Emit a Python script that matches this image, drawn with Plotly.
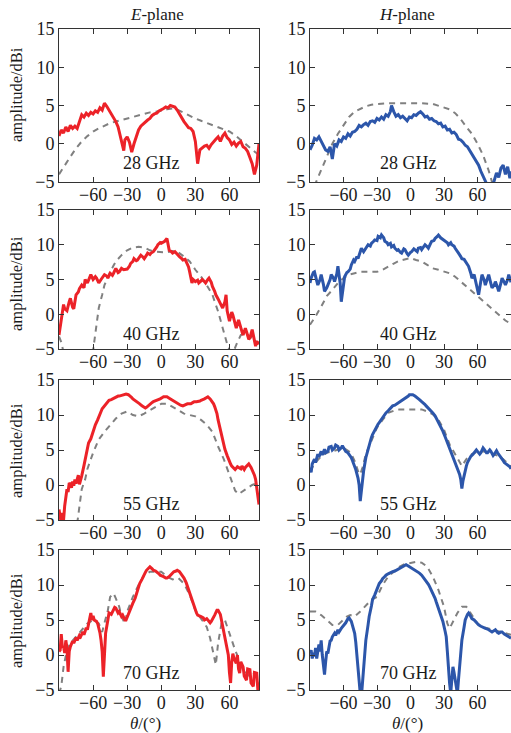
import plotly.graph_objects as go

# ---------------- data (theta in degrees, amplitude in dBi) ----------------
freq_labels = ["28 GHz", "40 GHz", "55 GHz", "70 GHz"]
plane_titles = ["<i>E</i>-plane", "<i>H</i>-plane"]
x_ticks = [-60, -30, 0, 30, 60]
y_ticks = [-5, 0, 5, 10, 15]

e28_meas = [(-90,1.0),(-88,1.8),(-86,1.4),(-84,2.2),(-82,1.6),(-80,2.4),(-78,2.0),(-76,2.3),(-74,2.0),(-72,3.0),(-70,3.8),(-68,3.5),(-66,4.0),(-64,3.7),(-62,4.1),(-60,3.9),(-58,4.3),(-56,4.1),(-54,4.7),(-52,4.4),(-50,5.3),(-48,4.9),(-46,4.4),(-44,3.9),(-42,3.4),(-40,2.9),(-38,2.2),(-36,1.0),(-34,-0.2),(-33,-0.9),(-32,0.5),(-30,0.9),(-28,0.2),(-26,-1.1),(-24,0.0),(-22,1.0),(-20,1.8),(-18,2.3),(-16,2.6),(-14,2.9),(-12,3.1),(-10,3.3),(-8,3.7),(-6,3.9),(-4,4.0),(-2,4.3),(0,4.4),(2,4.6),(4,4.8),(6,4.7),(8,5.0),(10,4.9),(12,4.8),(14,4.4),(16,3.9),(18,3.3),(20,2.9),(22,2.5),(24,2.1),(26,2.0),(28,1.6),(30,0.3),(32,-2.6),(34,-0.8),(36,-0.5),(38,-0.3),(40,-0.2),(42,-0.6),(44,-0.1),(46,0.3),(48,0.6),(50,0.9),(52,0.3),(54,1.0),(56,1.4),(58,0.8),(60,0.5),(62,-0.1),(64,0.2),(66,-0.3),(68,0.1),(70,0.3),(72,-0.4),(74,-0.6),(76,-1.0),(78,-1.8),(80,-2.6),(82,-4.0),(84,-2.8),(86,0.0)]
e28_sim = [(-90,-4.0),(-85,-2.8),(-80,-1.7),(-75,-0.6),(-70,0.3),(-65,1.0),(-60,1.6),(-55,2.0),(-50,2.4),(-45,2.7),(-40,2.9),(-35,3.1),(-30,3.3),(-25,3.6),(-20,3.8),(-15,4.0),(-10,4.1),(-5,4.2),(0,4.3),(5,4.5),(10,4.6),(15,4.4),(20,4.0),(25,3.6),(30,3.3),(35,3.0),(40,2.7),(45,2.4),(50,2.2),(55,1.9),(60,1.6),(65,1.1),(70,0.5),(75,-0.1),(80,-0.8),(86,-1.5)]

h28_meas = [(-90,-0.8),(-88,-0.2),(-86,0.7),(-84,0.5),(-82,0.9),(-80,0.3),(-78,-0.4),(-76,-0.8),(-74,-1.0),(-72,-0.4),(-70,-2.0),(-68,0.0),(-66,-0.3),(-64,0.5),(-62,0.3),(-60,0.9),(-58,0.7),(-56,1.3),(-54,1.0),(-52,1.5),(-50,1.6),(-48,1.9),(-46,2.4),(-44,2.2),(-42,2.5),(-40,2.7),(-38,2.4),(-36,2.9),(-34,3.0),(-32,2.8),(-30,3.3),(-28,3.1),(-26,3.5),(-24,3.2),(-22,3.8),(-20,3.6),(-18,4.2),(-17,5.0),(-15,4.2),(-13,3.6),(-11,3.8),(-9,3.4),(-7,3.6),(-5,3.3),(-3,3.0),(-1,3.5),(1,3.4),(3,3.8),(5,3.7),(7,4.0),(9,4.2),(11,3.9),(13,3.5),(15,3.6),(17,3.2),(19,3.3),(21,3.0),(23,2.9),(25,2.6),(27,2.7),(29,2.2),(31,2.3),(33,1.8),(35,1.9),(37,1.4),(39,1.5),(41,1.2),(43,0.6),(45,0.5),(47,0.2),(49,-0.2),(51,-0.4),(53,-0.9),(55,-1.3),(57,-1.8),(59,-2.4),(61,-2.8),(63,-3.6),(65,-4.3),(67,-4.9),(69,-5.5),(71,-6.0),(73,-5.6),(75,-4.8),(77,-3.8),(79,-4.4),(81,-3.2),(83,-2.8),(85,-4.0),(87,-3.0),(89,-4.5),(90,-3.6)]
h28_sim = [(-86,-5.5),(-83,-4.5),(-80,-3.5),(-75,-1.7),(-70,0.0),(-65,1.3),(-60,2.4),(-55,3.5),(-50,4.2),(-45,4.6),(-40,4.9),(-35,5.1),(-30,5.2),(-20,5.3),(-10,5.3),(0,5.3),(10,5.3),(20,5.2),(25,5.0),(30,4.8),(35,4.5),(40,4.0),(45,3.2),(50,2.2),(55,1.3),(60,0.0),(65,-1.5),(70,-3.5),(74,-5.5)]

e40_meas = [(-90,-3.0),(-88,-1.0),(-86,1.4),(-85,0.8),(-83,0.5),(-81,1.8),(-80,2.3),(-78,1.0),(-77,0.8),(-75,2.8),(-73,3.2),(-72,3.7),(-70,4.2),(-68,3.8),(-67,5.0),(-65,4.5),(-63,5.3),(-62,5.7),(-60,5.0),(-58,5.4),(-57,5.2),(-55,4.5),(-53,5.0),(-52,5.2),(-50,5.7),(-48,5.5),(-47,5.2),(-45,5.9),(-43,5.6),(-42,5.9),(-40,6.6),(-38,6.0),(-37,6.1),(-35,6.6),(-33,6.4),(-30,6.5),(-28,6.9),(-27,7.3),(-25,7.6),(-24,8.0),(-22,7.7),(-21,7.8),(-19,8.2),(-18,8.5),(-16,8.2),(-15,8.0),(-13,8.5),(-12,8.8),(-10,8.6),(-9,8.8),(-7,9.0),(-6,9.2),(-4,9.7),(-3,10.0),(-1,10.3),(0,10.2),(2,10.4),(3,10.5),(5,10.9),(6,10.2),(7,9.2),(9,9.0),(10,8.8),(12,9.0),(13,8.8),(15,8.5),(16,8.3),(18,8.0),(19,7.8),(21,7.9),(22,7.6),(24,6.8),(25,6.1),(27,4.5),(28,5.0),(30,4.7),(32,4.9),(33,4.5),(35,4.8),(36,5.0),(38,4.7),(39,4.5),(41,5.0),(42,5.2),(44,4.6),(45,4.0),(47,3.3),(48,2.8),(50,2.2),(51,1.8),(53,1.2),(54,0.9),(56,1.8),(57,2.8),(58,0.5),(60,-1.0),(62,0.3),(63,-0.1),(65,-1.3),(66,-2.0),(68,-0.8),(69,-1.5),(71,-2.5),(72,-3.0),(74,-2.0),(75,-2.5),(77,-3.6),(78,-3.4),(80,-2.2),(81,-3.0),(83,-4.6),(84,-3.9),(86,-4.3)]
e40_sim = [(-90,-3.2),(-88,-4.0),(-86,-5.5),(-62,-5.5),(-60,-5.2),(-58,-3.0),(-56,-0.5),(-55,0.9),(-52,2.8),(-50,4.2),(-47,5.3),(-45,6.1),(-42,7.0),(-40,7.6),(-35,8.5),(-30,9.2),(-25,9.6),(-20,9.7),(-15,9.6),(-10,9.2),(-5,9.0),(0,8.9),(5,8.9),(10,9.1),(15,8.9),(20,8.3),(25,7.6),(30,6.4),(35,5.4),(40,4.2),(45,2.8),(50,0.4),(55,-2.5),(58,-4.3),(61,-5.5),(64,-5.2),(67,-4.0),(70,-3.0),(74,-2.7),(78,-3.2),(82,-3.8),(86,-4.2)]

h40_meas = [(-90,4.5),(-89,5.2),(-87,6.0),(-86,6.1),(-84,4.8),(-83,4.2),(-81,5.0),(-80,5.7),(-78,4.3),(-77,3.3),(-75,3.8),(-74,4.2),(-72,5.0),(-71,5.7),(-69,5.2),(-68,4.7),(-66,5.8),(-65,6.9),(-63,4.5),(-62,1.8),(-60,4.0),(-59,5.4),(-57,6.0),(-56,6.1),(-54,6.5),(-53,7.1),(-51,7.8),(-50,7.6),(-48,8.3),(-47,8.0),(-45,9.0),(-44,9.5),(-42,9.0),(-41,9.3),(-39,9.8),(-38,10.0),(-36,9.8),(-35,10.2),(-33,10.5),(-32,10.7),(-30,10.6),(-29,11.2),(-27,11.0),(-26,11.4),(-24,11.0),(-23,10.5),(-21,10.3),(-20,10.0),(-18,10.2),(-17,9.7),(-15,9.9),(-14,9.5),(-12,9.2),(-11,9.3),(-9,8.9),(-8,8.8),(-6,9.4),(-5,9.3),(-3,8.7),(-2,8.5),(0,8.9),(1,9.0),(3,9.4),(4,9.3),(6,9.0),(7,9.5),(9,9.6),(10,9.3),(12,9.8),(13,10.0),(15,9.7),(16,9.5),(18,10.2),(19,10.5),(21,10.6),(22,10.9),(24,11.2),(25,11.4),(27,11.0),(28,10.9),(30,10.7),(31,10.5),(33,10.3),(34,10.0),(36,10.3),(37,10.0),(39,9.8),(40,9.5),(42,9.1),(43,8.8),(45,8.3),(46,8.0),(48,7.9),(49,7.6),(51,7.2),(52,6.9),(54,5.9),(55,5.2),(57,5.7),(58,5.0),(60,3.9),(61,2.8),(63,4.8),(64,5.7),(66,4.9),(67,4.2),(69,5.2),(70,5.7),(72,4.4),(73,3.8),(75,4.2),(76,4.7),(78,3.8),(79,3.3),(81,4.5),(82,5.2),(84,4.6),(85,4.2),(87,5.0),(88,5.7),(90,4.6)]
h40_sim = [(-90,-1.5),(-85,-0.3),(-80,1.1),(-75,2.6),(-70,3.5),(-65,4.5),(-60,5.2),(-55,5.7),(-50,5.9),(-45,6.1),(-40,6.1),(-35,6.1),(-30,6.1),(-25,6.4),(-20,6.9),(-15,7.3),(-10,7.7),(-5,7.9),(0,8.1),(5,7.8),(10,7.6),(15,7.1),(20,6.6),(25,6.4),(30,6.2),(35,5.9),(40,5.4),(45,4.7),(50,4.0),(55,3.3),(60,2.6),(65,1.8),(70,1.1),(75,0.4),(80,-0.3),(85,-0.9),(90,-1.4)]

e55_meas = [(-90,-3.5),(-89,-4.5),(-88,-5.5),(-87,-4.0),(-86,-5.0),(-85,-3.0),(-84,-1.5),(-83,-0.6),(-82,-1.0),(-81,0.3),(-80,0.1),(-79,-0.4),(-78,0.5),(-77,-0.1),(-76,0.8),(-75,0.2),(-74,0.8),(-73,1.4),(-72,0.1),(-71,0.6),(-70,1.3),(-68,2.8),(-67,3.7),(-65,5.0),(-64,6.0),(-62,6.6),(-61,7.2),(-59,8.2),(-58,8.6),(-56,9.3),(-55,9.8),(-53,10.5),(-52,10.9),(-50,11.3),(-49,11.6),(-47,11.9),(-46,12.1),(-44,12.2),(-43,12.3),(-41,12.5),(-40,12.6),(-38,12.7),(-37,12.7),(-35,12.8),(-34,12.8),(-32,12.9),(-31,13.0),(-29,12.9),(-28,12.8),(-26,12.5),(-25,12.3),(-23,12.1),(-22,12.0),(-20,11.8),(-19,11.6),(-17,11.3),(-16,11.2),(-14,11.0),(-13,11.1),(-11,11.4),(-10,11.6),(-8,11.8),(-7,11.9),(-5,12.0),(-4,12.1),(-2,12.2),(-1,12.3),(1,12.5),(2,12.6),(4,12.6),(5,12.6),(7,12.4),(8,12.3),(10,12.0),(11,11.9),(13,11.7),(14,11.6),(16,11.4),(17,11.4),(19,11.3),(20,11.4),(22,11.5),(23,11.6),(25,11.6),(26,11.6),(28,11.8),(29,11.9),(31,11.9),(32,11.9),(34,12.0),(35,12.1),(37,12.2),(38,12.3),(40,12.5),(41,12.6),(43,12.3),(44,12.1),(46,11.6),(47,11.2),(49,10.2),(50,9.3),(52,7.8),(53,7.0),(55,5.6),(56,5.1),(58,4.2),(59,3.7),(61,3.0),(62,2.7),(64,2.4),(65,2.2),(67,2.6),(68,2.5),(70,2.3),(71,2.7),(73,2.2),(74,2.5),(76,2.8),(77,3.0),(79,2.5),(80,2.2),(82,1.4),(83,0.8),(84,-0.5),(85,-1.5),(86,-2.8)]
e55_sim = [(-74,-5.5),(-72,-3.4),(-70,-0.6),(-67,0.8),(-65,2.3),(-60,4.6),(-55,6.5),(-50,7.6),(-45,8.6),(-40,9.5),(-35,10.2),(-30,10.5),(-25,10.0),(-20,9.8),(-15,10.2),(-10,10.7),(-5,11.2),(0,11.6),(5,11.6),(10,11.2),(15,10.7),(20,10.2),(25,10.0),(30,9.8),(35,9.3),(40,8.6),(45,7.6),(50,5.5),(55,3.7),(60,1.3),(65,-0.8),(68,-1.3),(70,-1.1),(75,-0.6),(80,0.0),(86,0.4)]

h55_meas = [(-90,2.5),(-89,1.8),(-88,3.0),(-86,3.7),(-85,3.2),(-83,4.4),(-82,4.0),(-80,4.8),(-79,4.3),(-77,5.1),(-76,4.6),(-74,4.8),(-73,5.4),(-71,5.5),(-70,5.0),(-68,5.3),(-67,5.7),(-65,5.5),(-64,5.0),(-62,5.3),(-61,5.6),(-59,5.1),(-58,4.8),(-56,4.6),(-55,4.4),(-53,3.9),(-52,3.5),(-50,2.7),(-49,2.2),(-47,1.0),(-46,0.0),(-45,-2.3),(-44,-0.5),(-43,1.0),(-42,2.0),(-40,3.9),(-38,5.2),(-37,5.8),(-35,6.8),(-34,7.2),(-32,7.9),(-31,8.2),(-29,8.7),(-28,8.9),(-26,9.4),(-25,9.6),(-23,10.1),(-22,10.3),(-20,10.6),(-19,10.8),(-17,11.1),(-16,11.3),(-14,11.4),(-13,11.5),(-11,11.7),(-10,11.8),(-8,12.1),(-7,12.2),(-5,12.4),(-4,12.5),(-2,12.7),(-1,12.9),(1,12.9),(2,12.9),(4,12.7),(5,12.6),(7,12.3),(8,12.2),(10,11.9),(11,11.8),(13,11.5),(14,11.3),(16,11.0),(17,10.8),(19,10.5),(20,10.3),(22,9.9),(23,9.6),(25,9.0),(26,8.7),(28,8.0),(29,7.7),(31,6.9),(32,6.5),(34,5.7),(35,5.3),(37,4.4),(38,3.9),(40,3.0),(41,2.7),(43,1.9),(44,1.5),(45,0.8),(46,-0.5),(47,0.6),(48,1.5),(50,2.7),(51,3.2),(53,3.8),(54,4.1),(56,4.4),(57,4.6),(59,5.0),(60,4.8),(62,4.4),(63,4.6),(65,5.3),(66,5.1),(68,4.6),(69,4.6),(71,5.0),(72,4.8),(74,4.2),(75,4.4),(77,4.9),(78,4.6),(80,4.2),(81,3.9),(83,3.5),(84,3.2),(86,3.0),(87,2.9),(89,2.6),(90,2.3)]
h55_sim = [(-90,2.0),(-85,3.2),(-80,4.1),(-75,4.6),(-70,4.8),(-65,5.1),(-60,5.3),(-55,4.8),(-52,4.1),(-50,3.4),(-47,2.0),(-45,1.5),(-43,2.5),(-40,4.4),(-35,6.3),(-30,8.2),(-25,9.3),(-20,10.3),(-15,10.6),(-10,10.8),(0,10.8),(10,10.8),(15,10.5),(20,10.1),(25,9.3),(30,7.9),(35,5.8),(40,4.4),(43,3.4),(46,2.7),(50,3.7),(55,4.4),(60,4.8),(65,4.8),(70,4.6),(75,4.4),(80,4.1),(85,3.4),(90,2.6)]

e70_meas = [(-90,0.5),(-89,0.7),(-88,3.0),(-87,1.0),(-86,1.2),(-85,0.3),(-84,2.1),(-83,1.0),(-82,-2.4),(-81,0.5),(-80,1.2),(-78,2.0),(-77,1.7),(-75,2.5),(-74,2.1),(-72,2.8),(-71,2.6),(-69,3.3),(-68,2.9),(-66,3.9),(-65,3.6),(-63,5.2),(-62,6.0),(-61,5.0),(-60,5.6),(-59,5.0),(-57,4.8),(-56,4.5),(-54,3.2),(-53,2.1),(-52,0.5),(-51,-3.1),(-50,0.0),(-49,3.1),(-47,5.0),(-46,6.0),(-44,5.8),(-43,6.2),(-41,6.8),(-40,6.7),(-38,6.0),(-37,6.2),(-35,5.5),(-34,5.7),(-32,5.0),(-31,5.0),(-29,5.8),(-28,6.4),(-26,7.0),(-25,7.4),(-23,8.1),(-22,8.6),(-20,9.6),(-19,10.2),(-17,10.8),(-16,11.2),(-14,11.8),(-13,12.1),(-11,12.4),(-10,12.6),(-8,12.3),(-7,12.1),(-5,12.0),(-4,11.9),(-2,11.6),(-1,11.4),(1,11.3),(2,11.2),(4,11.0),(5,11.0),(7,11.2),(8,11.4),(10,11.7),(11,11.9),(13,12.0),(14,12.1),(16,11.9),(17,11.7),(19,11.3),(20,11.0),(22,10.3),(23,9.8),(25,9.0),(26,8.6),(28,7.5),(29,6.9),(31,6.0),(32,5.7),(34,5.6),(35,5.5),(37,5.3),(38,5.0),(40,5.2),(41,5.0),(43,4.6),(44,4.8),(46,5.3),(47,5.7),(49,6.4),(50,6.4),(52,5.8),(53,5.0),(55,3.4),(56,2.1),(58,0.5),(59,0.0),(60,-2.5),(61,-4.0),(62,-1.0),(63,0.2),(64,-0.5),(66,-1.2),(67,0.0),(68,-2.0),(69,-2.6),(70,-1.0),(72,-1.7),(73,-3.0),(75,-3.6),(76,-2.0),(78,-2.1),(79,-4.0),(81,-4.5),(82,-2.5),(84,-2.6),(85,-5.0),(86,-4.0)]
e70_sim = [(-90,-5.5),(-88,-4.5),(-86,-1.7),(-83,0.7),(-80,1.7),(-75,2.6),(-70,3.6),(-65,4.5),(-60,5.0),(-55,4.5),(-52,3.3),(-50,4.5),(-47,6.4),(-45,8.3),(-42,8.8),(-40,8.1),(-37,6.9),(-35,5.5),(-32,4.5),(-30,6.2),(-25,8.3),(-20,10.0),(-15,11.4),(-10,11.9),(-5,11.9),(0,11.9),(5,11.2),(10,10.8),(15,11.0),(20,10.2),(25,8.6),(30,6.4),(35,5.2),(40,4.0),(43,2.4),(46,0.2),(48,-1.4),(50,1.7),(53,4.5),(56,5.0),(60,3.1),(65,0.7),(70,-1.2),(75,-2.6),(78,-3.1),(82,-2.6),(86,-4.5)]

h70_meas = [(-90,0.2),(-89,0.7),(-88,-0.5),(-87,0.3),(-86,-0.2),(-85,1.0),(-84,-0.5),(-83,0.7),(-82,1.5),(-81,0.5),(-80,2.1),(-79,0.0),(-78,-1.5),(-77,-2.8),(-76,-1.0),(-75,0.5),(-74,0.2),(-73,1.0),(-72,2.0),(-71,2.1),(-70,2.6),(-68,3.1),(-67,2.8),(-65,3.6),(-64,3.3),(-62,3.8),(-61,4.0),(-59,4.3),(-58,4.6),(-56,5.2),(-55,5.3),(-53,4.8),(-52,4.3),(-50,3.1),(-49,1.8),(-48,-0.2),(-47,-2.0),(-46,-4.0),(-45,-5.5),(-44,-6.0),(-43,-4.0),(-42,-1.7),(-41,0.3),(-40,2.1),(-38,4.3),(-37,5.5),(-35,7.0),(-34,7.9),(-32,8.6),(-31,9.0),(-29,9.7),(-28,10.2),(-26,10.6),(-25,10.9),(-23,11.2),(-22,11.4),(-20,11.6),(-19,11.7),(-17,11.8),(-16,11.9),(-14,12.0),(-13,12.1),(-11,12.3),(-10,12.4),(-8,12.5),(-7,12.6),(-5,12.8),(-4,12.9),(-2,12.7),(-1,12.6),(1,12.5),(2,12.4),(4,12.2),(5,12.1),(7,11.9),(8,11.7),(10,11.4),(11,11.2),(13,10.8),(14,10.5),(16,10.1),(17,9.8),(19,9.2),(20,8.8),(22,8.1),(23,7.6),(25,6.7),(26,6.2),(28,5.3),(29,4.8),(31,3.4),(32,2.6),(33,0.5),(34,-2.6),(35,-4.0),(36,-5.5),(37,-3.5),(38,-1.7),(39,-2.5),(40,-3.6),(41,-4.5),(42,-5.5),(43,-3.5),(44,-1.7),(45,0.5),(46,2.1),(48,4.0),(49,5.0),(51,5.8),(52,6.0),(54,5.5),(55,5.2),(57,5.0),(58,4.8),(60,4.4),(61,4.3),(63,4.1),(64,4.0),(66,3.9),(67,3.8),(69,3.7),(70,3.6),(72,3.4),(73,3.3),(75,3.5),(76,3.6),(78,3.2),(79,3.1),(81,3.3),(82,3.3),(84,3.0),(85,2.9),(87,2.8),(88,2.6),(90,2.4)]
h70_sim = [(-90,6.2),(-85,6.2),(-80,5.7),(-75,5.0),(-70,4.3),(-65,4.3),(-60,5.0),(-57,5.5),(-54,5.7),(-50,5.5),(-45,6.2),(-40,7.1),(-35,7.9),(-30,8.3),(-25,10.0),(-20,11.2),(-15,11.9),(-10,12.6),(-5,13.0),(0,13.2),(5,13.3),(10,13.2),(15,12.6),(20,11.2),(25,9.3),(30,6.9),(33,4.5),(35,3.8),(38,4.8),(42,6.0),(46,6.9),(50,6.9),(55,5.7),(60,4.5),(65,4.0),(70,3.8),(75,3.6),(80,3.3),(85,3.1),(90,2.9)]

measured = [[e28_meas, h28_meas], [e40_meas, h40_meas], [e55_meas, h55_meas], [e70_meas, h70_meas]]
simulated = [[e28_sim, h28_sim], [e40_sim, h40_sim], [e55_sim, h55_sim], [e70_sim, h70_sim]]

# ---------------- layout geometry (pixels) ----------------
W, H = 511, 733
col_px = [(59, 259), (310, 511)]
row_px = [(29, 182), (210, 349), (380, 520), (550, 690)]
x_ranges = [[-90, 86], [-90, 90]]
meas_colors = ["rgb(236,34,40)", "rgb(44,86,170)"]
sim_color = "rgb(128,128,128)"
serif = "Liberation Serif, Times New Roman, serif"
txt_color = "#1a1a1a"


def px_x(p):
    return p / W


def px_y(p):
    return 1 - p / H


fig = go.Figure()
layout = dict(
    width=W, height=H, margin=dict(l=0, r=0, t=0, b=0, autoexpand=False),
    paper_bgcolor="white", plot_bgcolor="white", showlegend=False,
    font=dict(family=serif, size=16, color=txt_color),
)
annotations = []

idx = 0
for r in range(4):
    for c in range(2):
        idx += 1
        xa = "x" if idx == 1 else f"x{idx}"
        ya = "y" if idx == 1 else f"y{idx}"
        sim = simulated[r][c]
        meas = measured[r][c]
        fig.add_trace(go.Scatter(
            x=[p[0] for p in sim], y=[p[1] for p in sim], mode="lines",
            line=dict(color=sim_color, width=2, dash="6px,5px"),
            xaxis=xa, yaxis=ya, hoverinfo="skip"))
        fig.add_trace(go.Scatter(
            x=[p[0] for p in meas], y=[p[1] for p in meas], mode="lines",
            line=dict(color=meas_colors[c], width=3),
            xaxis=xa, yaxis=ya, hoverinfo="skip"))
        axcommon = dict(showline=True, linecolor="#333", linewidth=1, mirror="ticks",
                        ticks="inside", ticklen=5, tickcolor="#333", showgrid=False,
                        zeroline=False, automargin=False,
                        tickfont=dict(family=serif, size=18, color=txt_color))
        layout["xaxis" if idx == 1 else f"xaxis{idx}"] = dict(
            domain=[px_x(col_px[c][0]), px_x(col_px[c][1])],
            range=x_ranges[c], tickvals=x_ticks, anchor=ya,
            ticklabelstandoff=-4, **axcommon)
        layout["yaxis" if idx == 1 else f"yaxis{idx}"] = dict(
            domain=[px_y(row_px[r][1]), px_y(row_px[r][0])],
            range=[-5, 15], tickvals=y_ticks, anchor=xa, **axcommon)
        # frequency label
        gx = 151 if c == 0 else 408
        gy = [163, 334, 504, 673][r]
        annotations.append(dict(text=freq_labels[r], x=px_x(gx), y=px_y(gy),
                                xref="paper", yref="paper", showarrow=False,
                                xanchor="center", yanchor="middle",
                                font=dict(family=serif, size=18, color=txt_color)))
    # y title
    annotations.append(dict(text="amplitude/dBi", x=px_x(16), y=px_y([95, 284, 451, 621][r]),
                            xref="paper", yref="paper", showarrow=False, textangle=-90,
                            xanchor="center", yanchor="middle",
                            font=dict(family=serif, size=16.5, color=txt_color)))

for c, (tx, title) in enumerate(zip([157, 407], plane_titles)):
    annotations.append(dict(text=title, x=px_x(tx), y=px_y(15), xref="paper", yref="paper",
                            showarrow=False, xanchor="center", yanchor="middle",
                            font=dict(family=serif, size=17, color=txt_color)))
for tx in [145, 407]:
    annotations.append(dict(text="<i>θ</i>/(°)", x=px_x(tx), y=px_y(723), xref="paper", yref="paper",
                            showarrow=False, xanchor="center", yanchor="middle",
                            font=dict(family=serif, size=17, color=txt_color)))

layout["annotations"] = annotations
fig.update_layout(**layout)
fig.write_html("out.html", config={"displayModeBar": False},
               post_script="document.body.style.margin='0';document.body.style.overflow='hidden';")
